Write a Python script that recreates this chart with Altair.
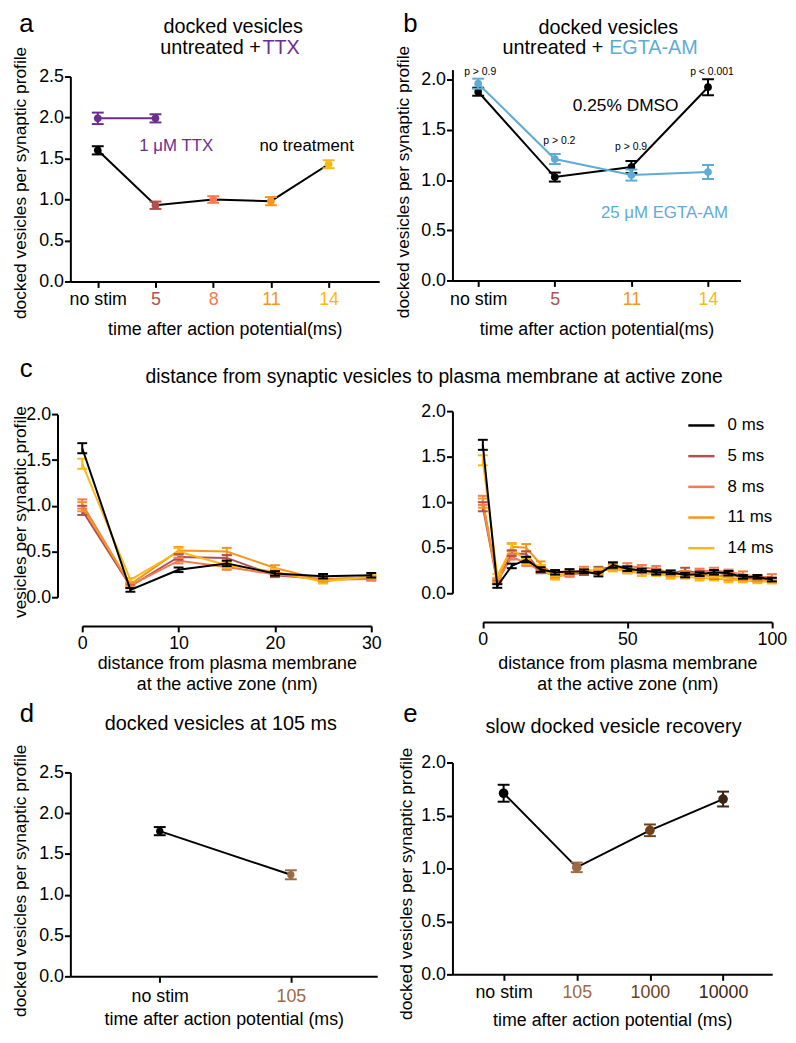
import json
import altair as alt
import pandas as pd

FONT = "Liberation Sans"
BLACK = "#000000"
C5, C8, C11, C14 = "#b0504f", "#f47b50", "#f7941d", "#fcb813"
PURPLE = "#6b2d8e"
BLUE = "#5eabd6"
BR105, BR1000, BR10000 = "#9d6a44", "#6e4119", "#3e2413"

# ---------------- data ----------------
# panel a
a_cats = ["no stim", "5", "8", "11", "14"]
a_untreated = [1.60, 0.93, 1.00, 0.98, 1.43]
a_untreated_err = [0.05, 0.045, 0.04, 0.05, 0.05]
a_ttx_cats = ["no stim", "5"]
a_ttx = [1.99, 1.99]
a_ttx_err = [0.07, 0.05]

# panel b
b_cats = ["no stim", "5", "11", "14"]
b_dmso = [1.88, 1.03, 1.13, 1.925]
b_dmso_err = [0.04, 0.045, 0.06, 0.08]
b_egta = [1.96, 1.21, 1.05, 1.08]
b_egta_err = [0.05, 0.05, 0.055, 0.07]
b_pvals = ["p > 0.9", "p > 0.2", "p > 0.9", "p < 0.001"]

# panel c
c_dist = [0, 5, 10, 15, 20, 25, 30, 35, 40, 45, 50, 55, 60, 65, 70, 75, 80, 85, 90, 95, 100]
c_series = ["0 ms", "5 ms", "8 ms", "11 ms", "14 ms"]
c_0ms = [1.63, 0.08, 0.30, 0.37, 0.26, 0.23, 0.24, 0.24, 0.21, 0.31, 0.27, 0.25, 0.23, 0.23, 0.20, 0.21, 0.23, 0.22, 0.18, 0.18, 0.15]
c_0err = [0.055, 0.02, 0.025, 0.03, 0.025, 0.025, 0.025, 0.02, 0.025, 0.03, 0.025, 0.02, 0.025, 0.02, 0.025, 0.02, 0.025, 0.025, 0.02, 0.02, 0.02]
c_5ms = [0.95, 0.12, 0.44, 0.43, 0.24, 0.20, 0.21, 0.22, 0.26, 0.29, 0.25, 0.25, 0.24, 0.22, 0.25, 0.22, 0.18, 0.21, 0.17, 0.16, 0.15]
c_5err = [0.05, 0.02, 0.03, 0.03, 0.02, 0.02, 0.02, 0.02, 0.03, 0.03, 0.03, 0.03, 0.03, 0.02, 0.03, 0.03, 0.03, 0.03, 0.02, 0.02, 0.02]
c_8ms = [1.02, 0.13, 0.40, 0.33, 0.25, 0.19, 0.20, 0.26, 0.24, 0.28, 0.30, 0.28, 0.27, 0.22, 0.21, 0.24, 0.25, 0.23, 0.21, 0.18, 0.18]
c_8err = [0.05, 0.02, 0.03, 0.03, 0.02, 0.02, 0.02, 0.03, 0.03, 0.03, 0.03, 0.03, 0.03, 0.03, 0.03, 0.03, 0.03, 0.03, 0.03, 0.02, 0.03]
c_11ms = [0.99, 0.14, 0.51, 0.50, 0.32, 0.19, 0.22, 0.25, 0.23, 0.28, 0.27, 0.25, 0.23, 0.21, 0.22, 0.19, 0.20, 0.17, 0.15, 0.14, 0.13]
c_11err = [0.05, 0.02, 0.04, 0.04, 0.03, 0.02, 0.02, 0.02, 0.02, 0.03, 0.03, 0.03, 0.03, 0.03, 0.02, 0.03, 0.03, 0.03, 0.02, 0.02, 0.02]
c_14ms = [1.46, 0.19, 0.50, 0.35, 0.28, 0.17, 0.23, 0.24, 0.25, 0.27, 0.24, 0.22, 0.21, 0.19, 0.18, 0.17, 0.16, 0.15, 0.14, 0.13, 0.13]
c_14err = [0.055, 0.02, 0.04, 0.03, 0.03, 0.02, 0.02, 0.02, 0.02, 0.03, 0.02, 0.03, 0.02, 0.03, 0.02, 0.03, 0.02, 0.03, 0.02, 0.02, 0.02]

# panel d
d_cats = ["no stim", "105"]
d_vals = [1.78, 1.245]
d_err = [0.05, 0.055]

# panel e
e_cats = ["no stim", "105", "1000", "10000"]
e_vals = [1.71, 1.01, 1.36, 1.655]
e_err = [0.08, 0.045, 0.055, 0.07]


# ---------------- helpers ----------------
def table(cats, vals, errs):
    return pd.DataFrame({
        "i": list(range(len(cats))), "cat": cats, "v": vals,
        "lo": [v - e for v, e in zip(vals, errs)],
        "hi": [v + e for v, e in zip(vals, errs)],
    })


def cat_x(cats, colors, domain, title, title_y, label_pad):
    conds = [{"test": f"datum.value == {k}", "value": c} for k, c in enumerate(colors)]
    return dict(
        scale=alt.Scale(domain=domain, nice=False, zero=False),
        axis=alt.Axis(values=list(range(len(cats))),
                      labelExpr=json.dumps(cats) + "[datum.value]",
                      labelColor={"condition": conds, "value": BLACK},
                      title=title, titleY=title_y, titleBaseline="alphabetic",
                      labelPadding=label_pad, labelFlush=False, labelOverlap=False))


def val_y(domain, ticks, title, title_x, title_y, rng=None):
    if rng:
        sc = alt.Scale(domain=domain, nice=False, zero=False, range=rng)
    else:
        sc = alt.Scale(domain=domain, nice=False, zero=False)
    return dict(scale=sc, axis=alt.Axis(values=ticks, format=".1f", title=title,
                                        titleX=title_x, titleY=title_y, labelPadding=1))


def series(df, xs, ys, color, line_color, cap=12, pt=60):
    base = alt.Chart(df)
    x = alt.X("i:Q", **xs)
    return [
        base.mark_line(color=line_color, strokeWidth=2).encode(x=x, y=alt.Y("v:Q", **ys)),
        base.mark_rule(strokeWidth=2).encode(x=x, y=alt.Y("lo:Q", **ys), y2="hi:Q", color=color),
        base.mark_tick(orient="horizontal", size=cap, thickness=2, opacity=1).encode(
            x=x, y=alt.Y("lo:Q", **ys), color=color),
        base.mark_tick(orient="horizontal", size=cap, thickness=2, opacity=1).encode(
            x=x, y=alt.Y("hi:Q", **ys), color=color),
        base.mark_circle(size=pt, opacity=1).encode(x=x, y=alt.Y("v:Q", **ys), color=color),
    ]


def txt(s, x, y, size=20, color=BLACK, align="center"):
    return alt.Chart(pd.DataFrame({"t": [s]})).mark_text(
        font=FONT, fontSize=size, color=color, align=align, baseline="alphabetic"
    ).encode(x=alt.value(x), y=alt.value(y), text="t:N")


YT = "docked vesicles per synaptic profile"
TICKS25 = [0, 0.5, 1.0, 1.5, 2.0, 2.5]
TICKS20 = [0, 0.5, 1.0, 1.5, 2.0]

# ---------------- panel a ----------------
a_cols = [BLACK, C5, C8, C11, C14]
xa = cat_x(a_cats, a_cols, [-0.475, 4.877], "time after action potential(ms)", 54, 3)
ya = val_y([0, 2.5], TICKS25, YT, -41, 114, rng=[214, 7])
a_color = alt.Color("cat:N", scale=alt.Scale(domain=a_cats, range=a_cols), legend=None)
pa = alt.layer(
    *series(table(a_cats, a_untreated, a_untreated_err), xa, ya, a_color, BLACK),
    *series(table(a_ttx_cats, a_ttx, a_ttx_err), xa, ya, alt.value(PURPLE), PURPLE),
    txt("a", -44.5, -38, 26),
    txt("docked vesicles", 164.5, -37),
    txt("untreated +", 192.5, -15.3, align="right"),
    txt("TTX", 194, -15.3, color=PURPLE, align="left"),
    txt("1 μM TTX", 107, 82, 17, PURPLE),
    txt("no treatment", 238.7, 82, 17),
).properties(width=312, height=214)

# ---------------- panel b ----------------
xb = cat_x(b_cats, [BLACK, C5, C11, C14], [-0.336, 3.424], "time after action potential(ms)", 55, 4)
yb = val_y([0, 2.1], TICKS20, YT, -40, 113)
pb = alt.layer(
    *series(table(b_cats, b_dmso, b_dmso_err), xb, yb, alt.value(BLACK), BLACK),
    *series(table(b_cats, b_egta, b_egta_err), xb, yb, alt.value(BLUE), BLUE),
    txt("b", -42.5, -38, 26),
    txt("docked vesicles", 157.5, -36),
    txt("untreated +", 152.3, -15.3, align="right"),
    txt("EGTA-AM", 158.3, -15.3, color=BLUE, align="left"),
    txt(b_pvals[0], 28, 5.7, 10.5),
    txt(b_pvals[1], 108, 75.3, 10.5),
    txt(b_pvals[2], 180.5, 81.3, 10.5),
    txt(b_pvals[3], 262.2, 5.7, 10.5),
    txt("0.25% DMSO", 175, 41.3, 17.5),
    txt("25 μM EGTA-AM", 214.2, 149.7, 17, BLUE),
).properties(width=291, height=213)

# ---------------- panel c ----------------
rows = []
for name, vals, errs in zip(c_series, [c_0ms, c_5ms, c_8ms, c_11ms, c_14ms],
                            [c_0err, c_5err, c_8err, c_11err, c_14err]):
    for d, v, e in zip(c_dist, vals, errs):
        rows.append({"d": d, "s": name, "v": v, "lo": v - e, "hi": v + e})
df_c = pd.DataFrame(rows)
c_cols = [BLACK, C5, C8, C11, C14]


def c_layers(df, xs, ys, legend):
    col = alt.Color("s:N", scale=alt.Scale(domain=c_series, range=c_cols), legend=legend)
    x = alt.X("d:Q", **xs)
    out = []
    for sub in [df[df.s != "0 ms"], df[df.s == "0 ms"]]:
        base = alt.Chart(sub)
        out += [
            base.mark_line(strokeWidth=2).encode(x=x, y=alt.Y("v:Q", **ys), color=col),
            base.mark_rule(strokeWidth=2).encode(x=x, y=alt.Y("lo:Q", **ys), y2="hi:Q", color=col),
            base.mark_tick(orient="horizontal", size=10, thickness=2, opacity=1).encode(
                x=x, y=alt.Y("lo:Q", **ys), color=col),
            base.mark_tick(orient="horizontal", size=10, thickness=2, opacity=1).encode(
                x=x, y=alt.Y("hi:Q", **ys), color=col),
        ]
    return out


C_XT = ["distance from plasma membrane", "at the active zone (nm)"]
xcl = dict(scale=alt.Scale(domain=[0, 30], nice=False, zero=False, range=[12, 304]),
           axis=alt.Axis(values=[0, 10, 20, 30], format="d", title=C_XT,
                         titleY=43, titleBaseline="alphabetic", titleLineHeight=21,
                         labelPadding=3, labelFlush=False))
ycl = dict(scale=alt.Scale(domain=[0, 2], nice=False, zero=False, range=[188, 3.3]),
           axis=alt.Axis(values=TICKS20, format=".1f", offset=13,
                         title="vesicles per synaptic profile", titleX=-28, titleY=101.5,
                         labelPadding=1))
pcl = alt.layer(
    *c_layers(df_c[df_c.d <= 30], xcl, ycl, None),
    txt("c", -44.7, -34.3, 26),
    txt("distance from synaptic vesicles to plasma membrane at active zone", 76, -28.7, 19.5, align="left"),
).properties(width=304, height=217)

xcr = dict(scale=alt.Scale(domain=[0, 100], nice=False, zero=False, range=[30.7, 322.7]),
           axis=alt.Axis(values=[0, 50, 100], format="d", title=C_XT,
                         titleY=47, titleBaseline="alphabetic", titleLineHeight=21,
                         labelPadding=3, labelFlush=False))
ycr = dict(scale=alt.Scale(domain=[0, 2], nice=False, zero=False, range=[184, 0]),
           axis=alt.Axis(values=TICKS20, format=".1f", title=None, labelPadding=1))
c_legend = alt.Legend(title=None, orient="none", legendX=237, legendY=0, symbolType="stroke",
                      symbolSize=700, symbolStrokeWidth=2.5, labelFontSize=17, labelFont=FONT,
                      labelColor=BLACK, rowPadding=8, labelOffset=12, padding=0)
pcr = alt.layer(*c_layers(df_c, xcr, ycr, c_legend)).properties(width=323, height=213)

# ---------------- panel d ----------------
xd = cat_x(d_cats, [BLACK, BR105], [-0.682, 1.659], "time after action potential (ms)", 49, 5)
yd = val_y([0, 2.5], TICKS25, YT, -41, 126, rng=[223, 17])
d_color = alt.Color("cat:N", scale=alt.Scale(domain=d_cats, range=[BLACK, BR105]), legend=None)
pd_ = alt.layer(
    *series(table(d_cats, d_vals, d_err), xd, yd, d_color, BLACK, pt=55),
    txt("d", -44, -33.7, 26),
    txt("docked vesicles at 105 ms", 152, -26.3),
).properties(width=310, height=223)

# ---------------- panel e ----------------
e_cols = [BLACK, BR105, BR1000, BR10000]
xe = cat_x(e_cats, e_cols, [-0.6996, 3.671], "time after action potential (ms)", 51.7, 3.5)
ye = val_y([0, 2.0], TICKS20, YT, -37, 129, rng=[221, 7])
e_color = alt.Color("cat:N", scale=alt.Scale(domain=e_cats, range=e_cols), legend=None)
pe = alt.layer(
    *series(table(e_cats, e_vals, e_err), xe, ye, e_color, BLACK, pt=95),
    txt("e", -42.5, -33.7, 26),
    txt("slow docked vesicle recovery", 162.7, -23),
).properties(width=323, height=221)

# ---------------- layout ----------------
chart = alt.concat(
    pa, pb, pcl, pcr, pd_, pe, columns=2,
    spacing={"row": 131, "column": 74}, align="each", bounds="flush",
).resolve_scale(color="independent").properties(
    autosize=alt.AutoSizeParams(type="none"),
    padding={"left": 63, "top": 57, "right": 725, "bottom": 969},
).configure(font=FONT).configure_view(stroke=None).configure_axis(
    domainColor=BLACK, domainWidth=2, tickColor=BLACK, tickWidth=2, tickSize=6,
    labelFont=FONT, labelFontSize=18, labelColor=BLACK, titleFont=FONT,
    titleFontWeight="normal", titleColor=BLACK, grid=False
).configure_axisX(titleFontSize=18).configure_axisY(titleFontSize=17.5)

chart.save("out.html", embed_options={"renderer": "svg", "actions": False})
